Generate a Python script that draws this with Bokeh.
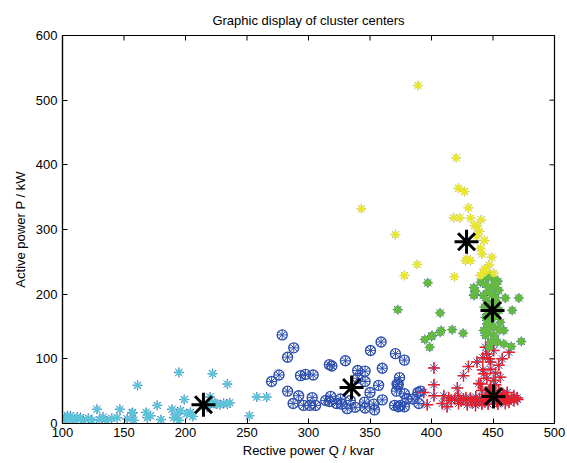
from bokeh.plotting import figure
from bokeh.models import Range1d, FixedTicker
from bokeh.embed import file_html
from bokeh.resources import INLINE

# ---------------- data ----------------
c1_x = [101.6, 103, 104, 106.5, 108, 110.6, 112, 114.6, 117, 121, 124, 128, 130, 133, 136, 140,
        144.5, 146.6, 152.6, 156.6, 157, 158, 161, 168, 169, 171.5, 177, 180, 189, 190.5, 193,
        194.6, 194.6, 196, 199, 201, 204, 206, 213.6, 217.6, 220, 220, 222, 222, 224, 225.7,
        228, 231, 234, 234, 236, 252, 258, 266]
c1_y = [8, 3, 12, 12, 6, 5, 10, 9, 4, 8, 5, 22, 6, 10, 4, 8,
        9, 22, 7, 16, 17, 5, 59, 17, 9, 12, 28, 6, 22, 9, 15,
        5, 79, 20, 37, 15, 17, 11, 28, 25, 41, 30, 77, 33, 31, 30,
        29, 31, 30, 61, 32, 12, 41, 41]

c2_x = [270, 276, 278.6, 283, 283, 287.5, 288, 292, 293.5, 296, 297.5, 301, 303, 303.8, 305.7,
        314, 317, 317, 318, 319, 322.8, 326, 327, 330, 331.5, 334, 338, 340, 340, 345.5, 346,
        346, 346, 350, 350.4, 353, 353.7, 357, 359, 360, 360, 370, 370.7, 371.5, 372, 373, 373,
        374, 374.8, 378, 378, 378, 380, 384.8, 389, 389.7, 391]
c2_y = [65, 75, 137, 102.5, 50, 31, 117, 43, 74, 28, 76, 28, 40, 75, 28,
        35.6, 91, 34, 42, 89, 31, 38, 30, 97, 23, 35.6, 25, 82, 70, 33, 81,
        65, 24, 48, 113, 30, 21, 59, 126, 85.5, 36.5, 28, 108, 50, 61, 60, 26,
        71, 28, 98, 26, 46, 38, 38, 48, 31, 50]

c3_x = [393.7, 396.5, 402, 402, 402, 408.7, 410, 412.7, 414, 421, 422, 422, 426, 426, 429, 430,
        431.5, 433, 435.8, 437, 437, 438.5, 440, 441, 441, 441.7, 441.7, 442.5, 445, 447, 448,
        450.6, 450.6, 454.7, 454.7, 456, 457.5, 461.5, 463, 467, 469.6,
        416, 419, 424, 428, 432, 436, 439, 443, 445, 447, 449, 451, 453, 455, 457, 459, 461,
        463, 465, 467, 470, 444, 452, 458, 446, 454, 460, 448, 452, 445, 448, 452, 444, 447]
c3_y = [48, 29, 86, 60, 43, 31, 43, 26, 40, 55, 43, 31, 74, 38, 29, 88,
        39, 33, 28, 95, 35, 62, 61, 51, 30, 101.5, 83, 77, 107.6, 52, 84,
        113, 66.5, 90, 51, 71.6, 100, 48, 110, 43, 39.6,
        36, 38, 35, 40, 36, 41, 37, 34, 40, 36, 42, 38, 34, 40, 36, 42, 37,
        33, 39, 35, 37, 45, 45, 46, 30, 30, 31, 56, 60, 70, 95, 78, 118, 100]

c4_x = [372.6, 394.6, 397, 398.6, 400.5, 400, 407, 407, 407.8, 416.8, 425.7, 434.4, 434.4, 435,
        435.7, 440, 442.5, 443.9, 444, 445, 445, 445, 448, 448, 449, 450.6, 450.6, 450.6, 452,
        453.4, 454.7, 456, 458.8, 458.8, 460, 464.8, 465.6, 471, 473,
        446, 448, 451, 447, 449, 452, 446, 444, 448, 453, 450, 446, 452, 455, 447, 455, 442,
        454, 443]
c4_y = [176, 130, 217.5, 118, 136, 134.5, 171, 141, 143.8, 145, 139.6, 210, 198, 199.5,
        205, 218.5, 144, 136, 164, 226, 190, 154, 125.7, 149, 211, 223.5, 180, 136.5, 195,
        125.7, 206, 156.6, 143.8, 123, 194, 119, 175, 194, 127,
        170, 160, 165, 185, 200, 215, 205, 215, 230, 187, 150, 140, 130, 145, 118, 175, 198,
        220, 180]

c5_x = [343, 370.7, 378, 388.4, 389, 418, 418.7, 420, 422, 423, 426.8, 427.6, 429, 430, 431.7,
        431.7, 435, 437, 439, 439.8, 439.8, 440.4, 443, 443, 449, 450.6, 445, 447, 441, 437, 442]
c5_y = [332, 292, 228.9, 246, 522.6, 318, 227, 410.8, 363.8, 318, 358.7, 252, 254.5, 333.5, 317.5,
        252, 306, 305, 297, 271, 229, 315, 283, 239, 257, 232, 236, 245, 262, 290, 232]

center_x = [214.6, 335, 450.4, 449.6, 428.5]
center_y = [29, 55.7, 41.7, 174.7, 281]

x_ticks = [100, 150, 200, 250, 300, 350, 400, 450, 500]
y_ticks = [0, 100, 200, 300, 400, 500, 600]

X0, X1, Y0, Y1 = 100, 500, 0, 600

BLUE = "#2d4fb0"
FONT = "Liberation Sans"

p = figure(width=567, height=463, output_backend="svg", toolbar_location=None,
           x_range=Range1d(X0, X1), y_range=Range1d(Y0, Y1),
           min_border_left=62, min_border_right=13, min_border_top=35, min_border_bottom=40,
           title="Graphic display of cluster centers")
p.title.align = "center"
p.title.text_font = FONT
p.title.text_font_size = "13px"
p.title.text_font_style = "normal"
p.title.text_color = "black"
p.title.standoff = 12
p.title.vertical_align = "top"

p.grid.visible = False
p.outline_line_color = "black"
p.outline_line_width = 1.2

for ax, lab in ((p.xaxis[0], "Rective power Q / kvar"), (p.yaxis[0], "Active power P / kW")):
    ax.axis_label = lab
    ax.axis_label_text_font = FONT
    ax.axis_label_text_font_size = "13px"
    ax.axis_label_text_font_style = "normal"
    ax.axis_label_text_color = "black"
    ax.major_label_text_font = FONT
    ax.major_label_text_font_size = "13px"
    ax.major_label_text_color = "black"
    ax.major_tick_in = 5
    ax.major_tick_out = 0
    ax.minor_tick_in = 0
    ax.minor_tick_out = 0
    ax.axis_line_color = "black"
    ax.axis_line_width = 1.2
    ax.major_tick_line_color = "black"
p.xaxis[0].ticker = FixedTicker(ticks=x_ticks)
p.yaxis[0].ticker = FixedTicker(ticks=y_ticks)
p.xaxis[0].major_label_standoff = 4
p.xaxis[0].axis_label_standoff = 3
p.yaxis[0].major_label_standoff = 5
p.yaxis[0].axis_label_standoff = 5

# inward tick marks on the top and right edges (box on)
tick_dy = 5 * (Y1 - Y0) / 388.0
tick_dx = 5 * (X1 - X0) / 492.0
p.segment(x0=x_ticks, y0=[Y1] * len(x_ticks), x1=x_ticks, y1=[Y1 - tick_dy] * len(x_ticks),
          line_color="black", line_width=1)
p.segment(x0=[X1] * len(y_ticks), y0=y_ticks, x1=[X1 - tick_dx] * len(y_ticks), y1=y_ticks,
          line_color="black", line_width=1)

# base blue asterisks for all points
for xs, ys in ((c1_x, c1_y), (c2_x, c2_y), (c3_x, c3_y), (c4_x, c4_y)):
    p.scatter(xs, ys, marker="asterisk", size=10, line_color=BLUE, line_width=1)
p.scatter(c5_x, c5_y, marker="asterisk", size=10, line_color="#9a9a8a", line_width=1, line_alpha=0.8)

# cluster overlays
p.scatter(c1_x, c1_y, marker="asterisk", size=8, line_color="#5cc4d8", line_width=1.6)
p.scatter(c2_x, c2_y, marker="circle", size=10, fill_color=None, line_color=BLUE, line_width=1.4)
p.scatter(c3_x, c3_y, marker="cross", size=12, line_color="#e8202a", line_width=1.5)
p.scatter(c4_x, c4_y, marker="circle", size=7, fill_color="#66b845", line_color="#66b845")
p.scatter(c5_x, c5_y, marker="asterisk", size=8, line_color="#e8e632", line_width=1.8)

# centers
p.scatter(center_x, center_y, marker="asterisk", size=24, line_color="black", line_width=3)

open("out.html", "w").write(file_html(p, INLINE))
